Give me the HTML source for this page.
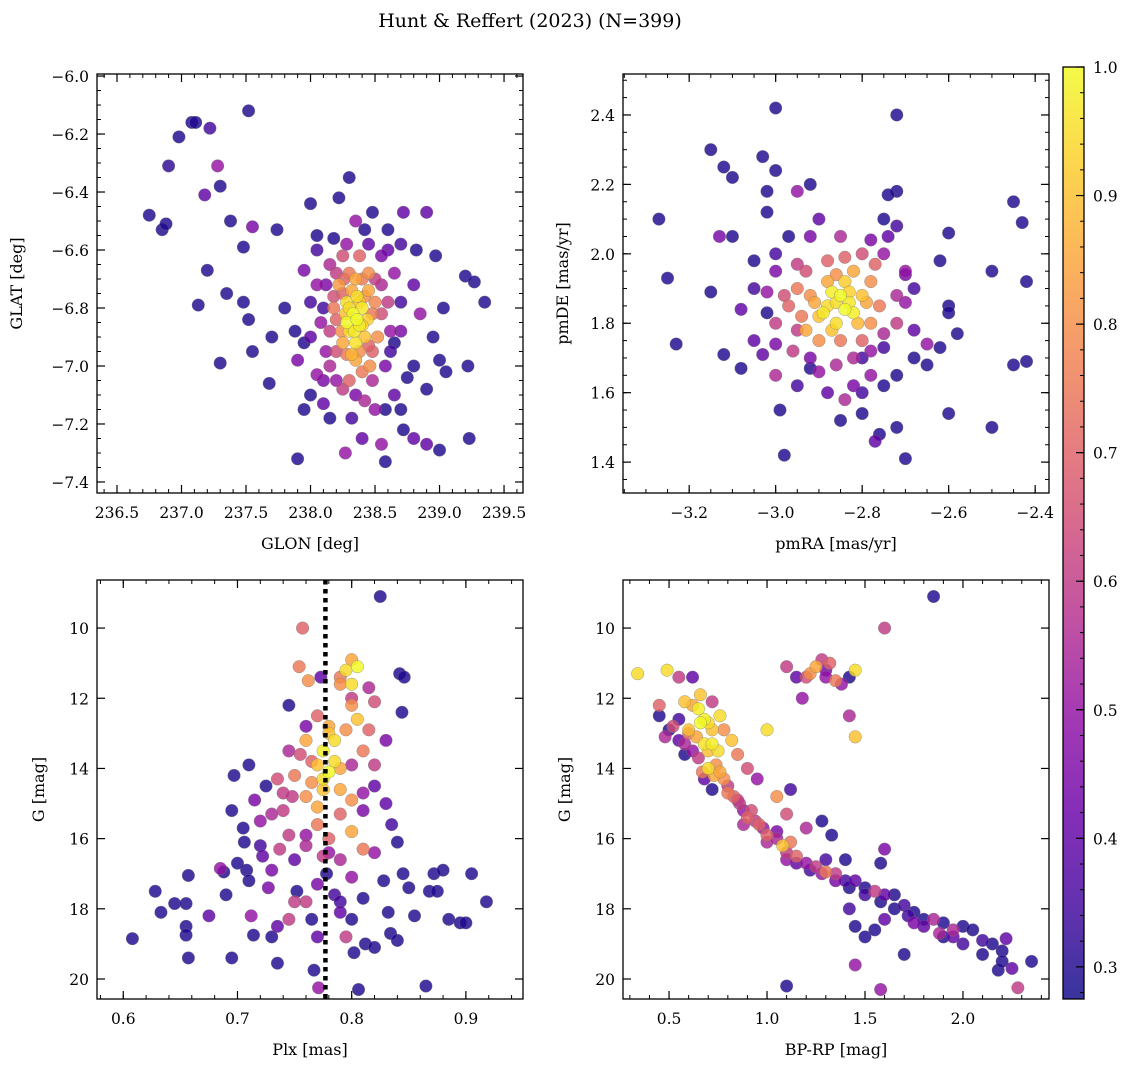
<!DOCTYPE html>
<html><head><meta charset="utf-8">
<style>
body{margin:0;background:#fff;}
svg{display:block;font-family:"DejaVu Serif","Liberation Serif",serif;}
</style></head>
<body>
<svg id="fig" width="1136" height="1067" viewBox="0 0 1136 1067" xmlns="http://www.w3.org/2000/svg">
<defs>
<linearGradient id="plasma" x1="0" y1="1" x2="0" y2="0">
<stop offset="0" stop-color="#0d0887"/><stop offset="0.1" stop-color="#41049d"/><stop offset="0.2" stop-color="#6a00a8"/><stop offset="0.3" stop-color="#8f0da4"/><stop offset="0.4" stop-color="#b12a90"/><stop offset="0.5" stop-color="#cc4778"/><stop offset="0.6" stop-color="#e16462"/><stop offset="0.7" stop-color="#f2844b"/><stop offset="0.8" stop-color="#fca636"/><stop offset="0.9" stop-color="#fcce25"/><stop offset="1" stop-color="#f0f921"/>
</linearGradient>
</defs>
<text x="530" y="27" text-anchor="middle" font-size="19">Hunt &amp; Reffert (2023) (N=399)</text>
</svg>
<script>
// Panel 1: GLON vs GLAT
const p1Lon=[236.75,236.85,236.88,236.90,236.98,237.08,237.11,237.22,237.52,237.18,237.28,237.30,237.38,237.48,237.55,237.74,237.13,237.2,237.35,237.48,237.52,237.55,237.30,237.70,237.68,237.88,237.90,237.95,238.0,238.05,238.18,238.22,238.30,238.35,238.42,238.48,238.60,238.72,238.90,238.82,238.97,239.20,239.27,239.35,239.03,238.95,239.0,239.05,238.90,239.22,239.23,239.0,238.80,238.90,238.72,238.55,238.58,238.40,238.27,238.15,237.95,237.90,238.10,238.05,238.75,238.80,238.65,238.85,238.80,238.65,238.60,238.0,238.10,238.12,238.2,238.5,238.62,238.7,238.55,238.2,238.05,238.15,238.2,238.25,238.3,238.45,238.55,238.48,238.4,238.3,238.25,238.38,238.18,238.52,238.35,238.28,238.33,238.38,238.30,238.40,238.35,238.42,238.28,238.36,238.44,238.32,238.25,238.22,238.45,238.5,238.15,238.6,238.42,238.1,238.35,238.46,
238.30,238.36,238.34,238.40,238.27,238.38,238.32,238.42,238.48,238.24,238.28,238.38,238.45,238.20,238.18,238.26,238.40,238.5,238.55,238.12,238.08,238.15,238.25,238.35,238.48,238.58,238.62,238.7,238.0,237.95,238.05,238.28,238.45,238.7,238.7,238.32,238.0,237.8,238.65,238.58];
const p1Lat=[-6.48,-6.53,-6.51,-6.31,-6.21,-6.16,-6.16,-6.18,-6.12,-6.41,-6.31,-6.38,-6.50,-6.59,-6.52,-6.53,-6.79,-6.67,-6.75,-6.78,-6.84,-6.95,-6.99,-6.90,-7.06,-6.88,-6.98,-6.67,-6.44,-6.55,-6.56,-6.42,-6.35,-6.50,-6.53,-6.47,-6.53,-6.47,-6.47,-6.60,-6.62,-6.69,-6.71,-6.78,-6.80,-6.90,-6.98,-7.02,-7.08,-7.0,-7.25,-7.29,-7.25,-7.27,-7.22,-7.27,-7.33,-7.25,-7.30,-7.18,-7.15,-7.32,-7.13,-7.03,-7.04,-7.00,-7.10,-6.82,-6.72,-6.68,-6.60,-6.90,-6.80,-6.95,-7.05,-7.15,-6.95,-6.88,-6.72,-6.68,-6.72,-6.88,-6.95,-6.75,-6.68,-6.68,-6.82,-6.95,-7.02,-7.05,-6.62,-6.62,-6.80,-6.90,-6.70,-6.78,-6.82,-6.86,-6.88,-6.80,-6.92,-6.90,-6.85,-6.76,-6.84,-6.96,-6.92,-6.72,-6.74,-6.78,-6.65,-6.78,-7.12,-7.05,-6.98,-7.0,
-6.80,-6.84,-6.88,-6.86,-6.82,-6.78,-6.74,-6.76,-6.82,-6.88,-6.96,-6.95,-6.93,-6.84,-6.76,-6.70,-6.70,-6.70,-6.62,-6.72,-6.85,-7.0,-7.08,-7.10,-7.05,-7.0,-6.88,-6.78,-6.78,-6.92,-6.6,-6.58,-6.58,-6.58,-7.15,-7.18,-7.1,-6.80,-6.92,-7.15];
const p1Prob=[.3,.3,.3,.32,.3,.3,.3,.35,.3,.4,.5,.3,.3,.3,.45,.3,.3,.3,.3,.3,.3,.3,.3,.3,.3,.3,.45,.45,.3,.3,.3,.3,.3,.5,.3,.3,.3,.4,.4,.3,.3,.3,.3,.3,.3,.3,.3,.3,.3,.3,.3,.3,.4,.4,.3,.5,.3,.4,.5,.3,.3,.3,.4,.5,.3,.3,.4,.5,.4,.5,.4,.4,.35,.5,.5,.5,.35,.45,.55,.6,.5,.6,.65,.7,.75,.8,.65,.7,.75,.7,.65,.7,.75,.8,.85,.95,1.0,.98,.95,.97,.96,.9,1.0,.95,.92,.88,.85,.82,.85,.78,.55,.6,.55,.45,.85,.8,
.95,1.0,.97,.93,.9,.9,.85,.8,.75,.8,.75,.8,.7,.7,.65,.7,.75,.6,.45,.45,.5,.55,.6,.45,.55,.45,.5,.35,.35,.3,.35,.5,.4,.35,.3,.35,.3,.3,.3,.3];
// Panel 2: pmRA vs pmDE
const p2Ra=[-3.27,-3.25,-3.23,-3.15,-3.15,-3.12,-3.10,-3.13,-3.12,-3.08,-3.05,-3.03,-3.02,-3.02,-3.0,-3.0,-2.97,-2.95,-2.92,-3.1,-3.02,-3.03,-3.02,-3.0,-2.99,-2.98,-2.92,-2.85,-2.84,-2.80,-2.78,-2.75,-2.77,-2.76,-2.72,-2.70,-2.72,-2.68,-2.65,-2.62,-2.60,-2.58,-2.60,-2.6,-2.62,-2.6,-2.5,-2.45,-2.42,-2.42,-2.43,-2.45,-2.5,-2.72,-2.72,-2.74,-2.75,-2.7,-2.65,-2.75,-2.8,-2.92,-2.88,-2.85,-2.82,-2.86,-2.90,-2.84,-2.80,-2.88,-2.93,-2.78,-2.82,-2.95,-2.97,-2.90,-2.85,-2.78,-2.76,-2.88,-2.80,-2.95,-3.0,-2.96,-2.86,-2.78,-2.72,-2.72,-2.75,-2.85,-2.92,-3.0,-3.05,-2.92,-2.70,-2.82,-2.88,-3.08,-2.74,-2.87,-2.83,
-2.86,-2.84,-2.89,-2.83,-2.87,-2.81,-2.91,-2.86,-2.79,-2.94,-2.77,-2.98,-2.82,-2.9,-2.75,-2.70,-2.78,-2.9,-2.95,-3.0,-2.68,-2.68,-2.84,-2.93,-2.8,-3.05,-3.0,-2.72,-2.95,-2.8];
const p2De=[2.10,1.93,1.74,1.89,2.30,2.25,2.22,2.05,1.71,1.67,1.98,2.28,2.12,2.18,2.42,2.24,2.05,2.18,2.20,2.05,1.83,1.71,1.89,1.65,1.55,1.42,1.67,1.52,1.58,1.54,1.65,1.62,1.46,1.48,1.50,1.41,1.65,1.70,1.68,1.73,1.54,1.77,1.85,1.83,1.98,2.06,1.50,1.68,1.69,1.92,2.09,2.15,1.95,2.18,2.40,2.17,2.10,1.94,1.74,1.73,1.70,1.88,1.85,1.88,1.83,1.80,1.82,1.92,1.88,1.92,1.78,1.80,1.95,1.90,1.85,1.75,1.75,1.92,1.85,1.98,2.0,1.97,1.80,1.72,1.68,1.72,1.80,1.88,2.0,2.05,2.05,1.95,1.75,1.70,1.95,1.62,1.60,1.84,2.05,1.89,1.86,
1.86,1.84,1.83,1.89,1.78,1.80,1.86,1.94,1.86,1.82,1.97,1.88,1.70,1.66,1.77,1.86,2.04,2.10,1.78,1.74,1.90,1.78,1.99,1.95,1.75,1.90,2.0,2.08,1.62,1.60];
const p2Prob=[.3,.3,.3,.3,.3,.3,.3,.45,.3,.3,.3,.3,.3,.3,.3,.3,.3,.5,.3,.3,.3,.4,.5,.55,.3,.3,.3,.3,.55,.3,.5,.3,.4,.3,.3,.3,.3,.3,.3,.3,.3,.3,.3,.3,.3,.3,.3,.3,.3,.3,.3,.3,.3,.3,.3,.3,.3,.45,.5,.35,.35,.8,.95,1.0,.98,.95,.9,.92,.9,.85,.85,.8,.85,.75,.7,.8,.75,.8,.75,.7,.65,.6,.6,.6,.55,.5,.6,.55,.5,.55,.45,.45,.4,.45,.5,.45,.4,.4,.4,.98,.97,
.95,1.0,.97,.93,.9,.88,.85,.8,.85,.75,.7,.65,.55,.5,.55,.5,.45,.4,.6,.45,.35,.4,.7,.65,.7,.35,.35,.35,.35,.35];
// Panel 3: Plx vs G
const p3Plx=[.608,.628,.633,.645,.655,.655,.655,.657,.657,.675,.685,.688,.690,.695,.697,.695,.705,.706,.708,.710,.712,.714,.715,.72,.722,.725,.727,.730,.735,.737,.74,.745,.748,.752,.754,.757,.76,.762,.765,.767,.77,.771,.773,.778,.785,.79,.795,.802,.806,.81,.812,.82,.825,.828,.832,.834,.84,.842,.844,.846,.845,.85,.855,.865,.868,.872,.875,.88,.885,.895,.9,.905,.918,.83,.835,.84,.82,.81,.8,.76,.75,.73,.78,.80,.795,.805,.80,.79,.80,.78,.785,.775,.78,.775,.77,.76,.765,.75,.76,.79,.80,.81,.805,.815,.82,.79,.77,.78,.775,.745,.735,.82,.81,.80,.77,
.78,.785,.775,.79,.795,.77,.765,.755,.74,.73,.745,.76,.79,.80,.77,.75,.735,.79,.81,.82,.83,.71,.72,.70,.76,.745,.8,.815,.79,.8];
const p3G=[18.85,17.5,18.1,17.85,17.85,18.5,18.75,19.4,17.05,18.2,16.85,16.95,17.6,19.4,14.2,15.2,15.7,16.1,16.9,17.2,18.2,18.75,14.9,15.5,16.5,14.5,17.4,18.8,19.55,16.3,15.2,18.3,14.8,17.5,11.1,10.0,17.8,11.5,18.3,19.75,18.8,20.25,11.4,17.0,17.6,18.1,18.8,19.25,20.3,17.7,19.0,19.1,9.1,17.2,18.1,18.7,18.9,11.3,12.4,11.4,17.0,17.4,18.2,20.2,17.5,17.0,17.5,16.9,18.3,18.4,18.4,17.0,17.8,15.0,15.6,16.1,16.4,14.7,13.9,15.9,16.6,16.9,16.4,10.9,11.2,11.1,11.6,11.6,12.2,12.8,13.2,13.5,14.1,14.3,13.9,13.2,13.8,14.2,14.8,14.6,14.9,13.5,12.6,12.9,12.1,15.3,15.6,16.0,16.5,13.5,14.3,13.9,16.3,15.8,15.1,
13.0,13.8,14.6,14.0,12.9,12.5,14.4,13.6,14.7,15.3,15.9,16.2,16.6,17.1,17.3,17.8,18.5,17.8,15.2,14.5,13.2,13.9,16.2,16.7,12.8,12.2,12.0,11.7,11.4,18.3];
const p3Prob=[.3,.3,.3,.3,.3,.3,.3,.3,.3,.4,.5,.3,.3,.3,.3,.3,.3,.3,.3,.3,.5,.3,.45,.5,.4,.3,.45,.3,.3,.6,.6,.6,.6,.3,.75,.7,.6,.8,.3,.3,.4,.5,.4,.3,.35,.4,.6,.3,.3,.3,.3,.3,.3,.3,.3,.3,.3,.3,.3,.3,.3,.3,.3,.3,.3,.3,.3,.3,.3,.3,.3,.3,.3,.4,.35,.3,.5,.5,.55,.5,.4,.45,.5,.85,.95,1.0,.95,.8,.8,.85,.95,.98,1.0,.95,.9,.85,.7,.75,.8,.85,.8,.75,.9,.7,.65,.7,.75,.7,.6,.55,.65,.6,.75,.85,.85,
.9,.95,.9,.85,.8,.7,.8,.65,.6,.55,.6,.55,.55,.5,.45,.6,.4,.35,.45,.4,.45,.3,.35,.3,.45,.3,.6,.55,.75,.3];
// Panel 4: BP-RP vs G
const p4Col=[.45,.48,.52,.55,.58,.6,.62,.65,.67,.66,.68,.7,.72,.72,.68,.75,.7,.73,.78,.8,.82,.78,.76,.62,.58,.66,.34,.49,.55,.62,.72,.83,.86,.88,.9,.94,.98,1.0,1.05,1.08,1.1,1.12,1.15,1.2,1.25,1.3,1.3,1.35,1.4,1.4,1.45,1.5,1.55,1.6,1.65,1.7,1.75,1.8,1.85,1.9,1.95,2.0,2.05,2.1,2.15,2.2,2.22,2.25,2.28,2.35,2.18,1.95,1.88,1.75,1.6,1.7,1.45,1.5,1.55,1.42,1.45,1.58,1.1,1.58,1.6,1.33,1.28,1.2,1.1,1.05,1.12,1.0,1.18,1.45,1.45,1.42,1.42,1.6,1.85,1.28,1.32,1.25,1.22,1.2,1.3,1.35,1.10,1.15,.45,.9,.95,.85,.65,
.6,.64,.7,.74,.76,.8,.85,.88,.92,.96,1.0,1.05,1.1,1.15,1.22,1.28,1.35,1.42,1.5,1.58,1.65,1.72,1.8,1.9,2.0,2.1,2.2,.55,.5,.58,.68,.72,1.3,1.38];
const p4G=[12.5,13.1,12.8,12.6,13.3,13.0,13.5,13.7,14.1,12.7,12.6,12.7,12.9,13.3,13.3,13.5,14.0,14.2,14.3,14.5,13.2,12.9,12.5,12.2,12.1,11.9,11.3,11.2,11.4,11.4,12.1,14.8,15.0,15.2,15.4,15.5,15.7,15.9,16.0,16.2,16.4,16.1,16.5,16.7,16.8,16.6,16.95,17.0,16.6,17.2,17.2,17.4,17.5,17.6,17.6,17.9,18.1,18.3,18.3,18.4,18.6,18.5,18.6,18.9,19.0,19.2,18.85,19.7,20.25,19.5,19.75,18.8,18.7,18.4,18.3,19.3,18.5,18.8,18.6,18.0,19.6,20.3,20.2,16.7,16.3,15.9,15.5,15.7,15.3,14.8,14.6,12.9,12.0,11.2,13.1,12.5,11.4,10.0,9.1,10.9,11.0,11.1,11.3,11.4,11.4,11.5,11.1,11.4,12.2,14.0,14.3,13.6,12.3,
12.9,13.1,13.5,13.9,14.1,14.7,14.9,15.6,15.2,15.6,16.1,15.8,16.6,16.7,16.9,17.0,17.2,17.4,17.6,17.8,18.0,18.2,18.5,18.8,19.0,19.3,19.5,13.2,12.9,13.6,14.3,14.6,11.2,11.6];
const p4Prob=[.3,.55,.65,.35,.55,.7,.5,.6,.75,1.0,.98,.95,.9,.98,.96,.95,.95,.85,.8,.6,.9,.8,.95,.85,.9,.9,.95,.95,.6,.4,.6,.7,.6,.5,.7,.6,.5,.7,.55,.9,.6,.75,.7,.5,.6,.35,.75,.6,.3,.35,.4,.3,.6,.4,.3,.35,.3,.3,.55,.3,.55,.3,.3,.35,.3,.3,.4,.4,.6,.3,.3,.4,.55,.45,.4,.3,.3,.3,.3,.35,.5,.5,.3,.3,.45,.3,.3,.55,.65,.8,.35,.95,.5,.95,.9,.55,.3,.6,.3,.6,.7,.85,.8,.65,.5,.75,.6,.4,.7,.65,.5,.75,.98,
.9,.85,.9,.8,.85,.75,.6,.55,.65,.7,.55,.45,.5,.4,.35,.5,.45,.3,.35,.3,.3,.35,.4,.3,.35,.3,.3,.4,.3,.3,.4,.3,.45,.5];
// Axis tick labels
const p1XTicks=[236.5,237.0,237.5,238.0,238.5,239.0,239.5];
const p1YTicks=[-6.0,-6.2,-6.4,-6.6,-6.8,-7.0,-7.2,-7.4];
const p2XTicks=[-3.2,-3.0,-2.8,-2.6,-2.4];
const p2YTicks=[1.4,1.6,1.8,2.0,2.2,2.4];
const p3XTicks=[0.6,0.7,0.8,0.9];
const gTicks=[10,12,14,16,18,20];
const p4XTicks=[0.5,1.0,1.5,2.0];
const cbTicks=[0.3,0.4,0.5,0.6,0.7,0.8,0.9,1.0];
const plxRef=[0.777];

const NS="http://www.w3.org/2000/svg";
const svg=document.getElementById('fig');
function mk(tag,attrs,parent){const e=document.createElementNS(NS,tag);for(const k in attrs)e.setAttribute(k,attrs[k]);(parent||svg).appendChild(e);return e;}
const VMIN=0.275,VMAX=1.0;
const stops=[[13,8,135],[65,4,157],[106,0,168],[143,13,164],[177,42,144],[204,71,120],[225,100,98],[242,132,75],[252,166,54],[252,206,37],[240,249,33]];
function cmap(p){let t=(p-VMIN)/(VMAX-VMIN);t=Math.max(0,Math.min(1,t))*10;const i=Math.min(9,Math.floor(t)),f=t-i;const a=stops[i],b=stops[i+1];return `rgb(${a.map((v,k)=>Math.round(v+(b[k]-v)*f)).join(',')})`;}
function fmt(v,d){return v.toFixed(d).replace('-','\u2212');}

function panel(o){
  const g=mk('g',{});
  
  
  const sx=v=>o.x0+(v-o.xmin)/(o.xmax-o.xmin)*(o.x1-o.x0);
  const sy=v=>o.y1-(v-o.ymin)/(o.ymax-o.ymin)*(o.y1-o.y0);
  const clipId='clip-'+o.name;
  const cp=mk('clipPath',{id:clipId},g);
  mk('rect',{x:o.x0,y:o.y0,width:o.x1-o.x0,height:o.y1-o.y0},cp);
  const pts=mk('g',{'clip-path':`url(#${clipId})`},g);
  
  
  const idx=o.xs.map((_,i)=>i).sort((a,b)=>o.ps[a]-o.ps[b]);
  idx.forEach(i=>{
    const c=mk('circle',{cx:sx(o.xs[i]),cy:sy(o.ys[i]),r:6.3,fill:cmap(o.ps[i]),'fill-opacity':0.82,stroke:'#777','stroke-width':0.5,'stroke-opacity':0.7},pts);
    
    
  });
  if(o.vline){o.vline.forEach(v=>{
    const l=mk('line',{x1:sx(v),x2:sx(v),y1:o.y0,y2:o.y1,stroke:'#000','stroke-width':4.5,'stroke-dasharray':'4.5,4.5'},g);
    
    
  });}
  const fr=mk('rect',{x:o.x0,y:o.y0,width:o.x1-o.x0,height:o.y1-o.y0,fill:'none',stroke:'#000','stroke-width':1.3},g);
  
  
  for(let v=Math.ceil(o.xmin/o.xminor-1e-9)*o.xminor;v<=o.xmax+1e-9;v+=o.xminor){const X=sx(v);mk('line',{x1:X,x2:X,y1:o.y1,y2:o.y1-4,stroke:'#000','stroke-width':1},g);mk('line',{x1:X,x2:X,y1:o.y0,y2:o.y0+4,stroke:'#000','stroke-width':1},g);}
  for(let v=Math.ceil(o.ymin/o.yminor-1e-9)*o.yminor;v<=o.ymax+1e-9;v+=o.yminor){const Y=sy(v);mk('line',{x1:o.x0,x2:o.x0+4,y1:Y,y2:Y,stroke:'#000','stroke-width':1},g);mk('line',{x1:o.x1,x2:o.x1-4,y1:Y,y2:Y,stroke:'#000','stroke-width':1},g);}
  o.xt.forEach(v=>{const X=sx(v);mk('line',{x1:X,x2:X,y1:o.y1,y2:o.y1-8,stroke:'#000','stroke-width':1.2},g);mk('line',{x1:X,x2:X,y1:o.y0,y2:o.y0+8,stroke:'#000','stroke-width':1.2},g);
    const t=mk('text',{x:X,y:o.y1+25,'text-anchor':'middle','font-size':15.5},g);t.textContent=fmt(v,o.xd);
    });
  o.yt.forEach(v=>{const Y=sy(v);mk('line',{x1:o.x0,x2:o.x0+8,y1:Y,y2:Y,stroke:'#000','stroke-width':1.2},g);mk('line',{x1:o.x1,x2:o.x1-8,y1:Y,y2:Y,stroke:'#000','stroke-width':1.2},g);
    const t=mk('text',{x:o.x0-8,y:Y+6,'text-anchor':'end','font-size':15.5},g);t.textContent=fmt(v,o.yd);
    });
  const xl=mk('text',{x:(o.x0+o.x1)/2,y:o.y1+56,'text-anchor':'middle','font-size':16},g);xl.textContent=o.xlab;
  
  const yx=o.ylx,yy=(o.y0+o.y1)/2;
  const yl=mk('text',{x:yx,y:yy,'text-anchor':'middle','font-size':16,transform:`rotate(-90 ${yx} ${yy})`},g);yl.textContent=o.ylab;
  
}
panel({name:'glon-glat-panel',x0:97,x1:523,y0:74,y1:493,xmin:236.345,xmax:239.647,ymin:-7.438,ymax:-5.993,xs:p1Lon,ys:p1Lat,ps:p1Prob,xt:p1XTicks,yt:p1YTicks,xd:1,yd:1,xminor:0.1,yminor:0.05,xlab:'GLON [deg]',ylab:'GLAT [deg]',ylx:22});
panel({name:'proper-motion-panel',x0:623,x1:1049,y0:74,y1:493,xmin:-3.353,xmax:-2.368,ymin:1.311,ymax:2.518,xs:p2Ra,ys:p2De,ps:p2Prob,xt:p2XTicks,yt:p2YTicks,xd:1,yd:1,xminor:0.05,yminor:0.05,xlab:'pmRA [mas/yr]',ylab:'pmDE [mas/yr]',ylx:568});
panel({name:'parallax-panel',x0:97,x1:523,y0:580,y1:999,xmin:0.577,xmax:0.950,ymin:20.57,ymax:8.63,xs:p3Plx,ys:p3G,ps:p3Prob,xt:p3XTicks,yt:gTicks,xd:1,yd:0,xminor:0.02,yminor:0.5,xlab:'Plx [mas]',ylab:'G [mag]',ylx:44,vline:plxRef});
panel({name:'cmd-panel',x0:623,x1:1049,y0:580,y1:999,xmin:0.265,xmax:2.439,ymin:20.57,ymax:8.63,xs:p4Col,ys:p4G,ps:p4Prob,xt:p4XTicks,yt:gTicks,xd:1,yd:0,xminor:0.1,yminor:0.5,xlab:'BP-RP [mag]',ylab:'G [mag]',ylx:570});

// colorbar
const cb=mk('g',{});


const cx0=1063,cx1=1084,cy0=67,cy1=999;
const cbY=v=>cy1-(v-VMIN)/(VMAX-VMIN)*(cy1-cy0);
mk('rect',{x:cx0,y:cy0,width:cx1-cx0,height:cy1-cy0,fill:'url(#plasma)','fill-opacity':0.82},cb);
mk('rect',{x:cx0,y:cy0,width:cx1-cx0,height:cy1-cy0,fill:'none',stroke:'#000','stroke-width':1.3},cb);
for(let v=0.28;v<=1.0001;v+=0.02){const Y=cbY(v);mk('line',{x1:cx1,x2:cx1-4,y1:Y,y2:Y,stroke:'#000','stroke-width':1},cb);}
cbTicks.forEach(v=>{const Y=cbY(v);mk('line',{x1:cx1,x2:cx1-8,y1:Y,y2:Y,stroke:'#000','stroke-width':1.2},cb);
  const t=mk('text',{x:cx1+9,y:Y+6,'font-size':15.5},cb);t.textContent=v.toFixed(1);
  });
</script>
</body></html>
